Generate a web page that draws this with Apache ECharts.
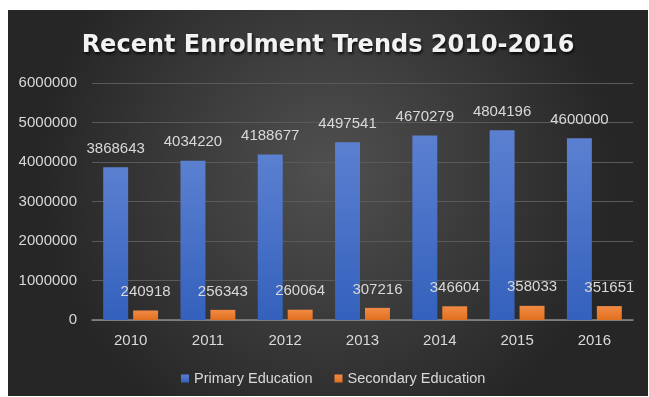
<!DOCTYPE html>
<html>
<head>
<meta charset="utf-8">
<script src="https://cdn.jsdelivr.net/npm/echarts@6/dist/echarts.min.js"></script>
<style>
  html, body { margin: 0; padding: 0; background: #ffffff; }
  body { width: 649px; height: 397px; position: relative; overflow: hidden; }
  #chart { position: absolute; left: 8px; top: 10px; width: 640px; height: 386px; }
</style>
</head>
<body>
<div id="chart"></div>
<script>
// Enrolment figures per year
const years = ['2010', '2011', '2012', '2013', '2014', '2015', '2016'];
const primaryEducation = [3868643, 4034220, 4188677, 4497541, 4670279, 4804196, 4600000];
const secondaryEducation = [240918, 256343, 260064, 307216, 346604, 358033, 351651];
const yTicks = { min: 0, max: 6000000, interval: 1000000 };

const FONT = 'Liberation Sans';
const TEXT = '#d9d9d9';

const chart = echarts.init(document.getElementById('chart'), null, { renderer: 'canvas' });

function barGradient(top, bottom) {
  return new echarts.graphic.LinearGradient(0, 0, 0, 1, [
    { offset: 0, color: top },
    { offset: 1, color: bottom }
  ]);
}

const valueLabel = {
  show: true,
  position: 'top',
  distance: 11,
  color: TEXT,
  fontFamily: FONT,
  fontSize: 15,
  formatter: p => String(p.value)
};

chart.setOption({
  backgroundColor: {
    type: 'radial', x: 0.5, y: 0.42, r: 0.75,
    colorStops: [
      { offset: 0, color: '#505050' },
      { offset: 1, color: '#262626' }
    ]
  },
  animation: false,
  title: {
    text: 'Recent Enrolment Trends 2010-2016',
    left: 'center',
    top: 19,
    textStyle: {
      color: '#f2f2f2',
      fontFamily: 'DejaVu Sans',
      fontWeight: 'bold',
      fontSize: 24,
      textShadowColor: 'rgba(0,0,0,0.85)',
      textShadowBlur: 3,
      textShadowOffsetX: 1,
      textShadowOffsetY: 2
    }
  },
  legend: {
    left: 168,
    top: 356,
    itemWidth: 8,
    itemHeight: 8,
    itemGap: 22,
    icon: 'rect',
    textStyle: { color: TEXT, fontFamily: FONT, fontSize: 14.5 },
    data: ['Primary Education', 'Secondary Education']
  },
  grid: { left: 84, right: 15, top: 73, bottom: 76, containLabel: false },
  xAxis: {
    type: 'category',
    data: years,
    axisLine: { lineStyle: { color: '#8c8c8c', width: 1.5 } },
    axisTick: { show: false },
    axisLabel: { color: TEXT, fontFamily: FONT, fontSize: 15, margin: 13 }
  },
  yAxis: {
    type: 'value',
    min: yTicks.min,
    max: yTicks.max,
    interval: yTicks.interval,
    axisLine: { show: false },
    axisTick: { show: false },
    splitLine: { lineStyle: { color: '#5a5a5a', width: 1 } },
    axisLabel: { color: TEXT, fontFamily: FONT, fontSize: 15, margin: 15, formatter: v => String(v) }
  },
  series: [
    {
      name: 'Primary Education',
      type: 'bar',
      data: primaryEducation,
      barGap: '20%',
      barCategoryGap: '29%',
      itemStyle: { color: barGradient('#5b80d0', '#3461bd') },
      label: valueLabel
    },
    {
      name: 'Secondary Education',
      type: 'bar',
      data: secondaryEducation,
      itemStyle: { color: barGradient('#f28a45', '#e0701f') },
      label: valueLabel
    }
  ]
});
</script>
</body>
</html>
